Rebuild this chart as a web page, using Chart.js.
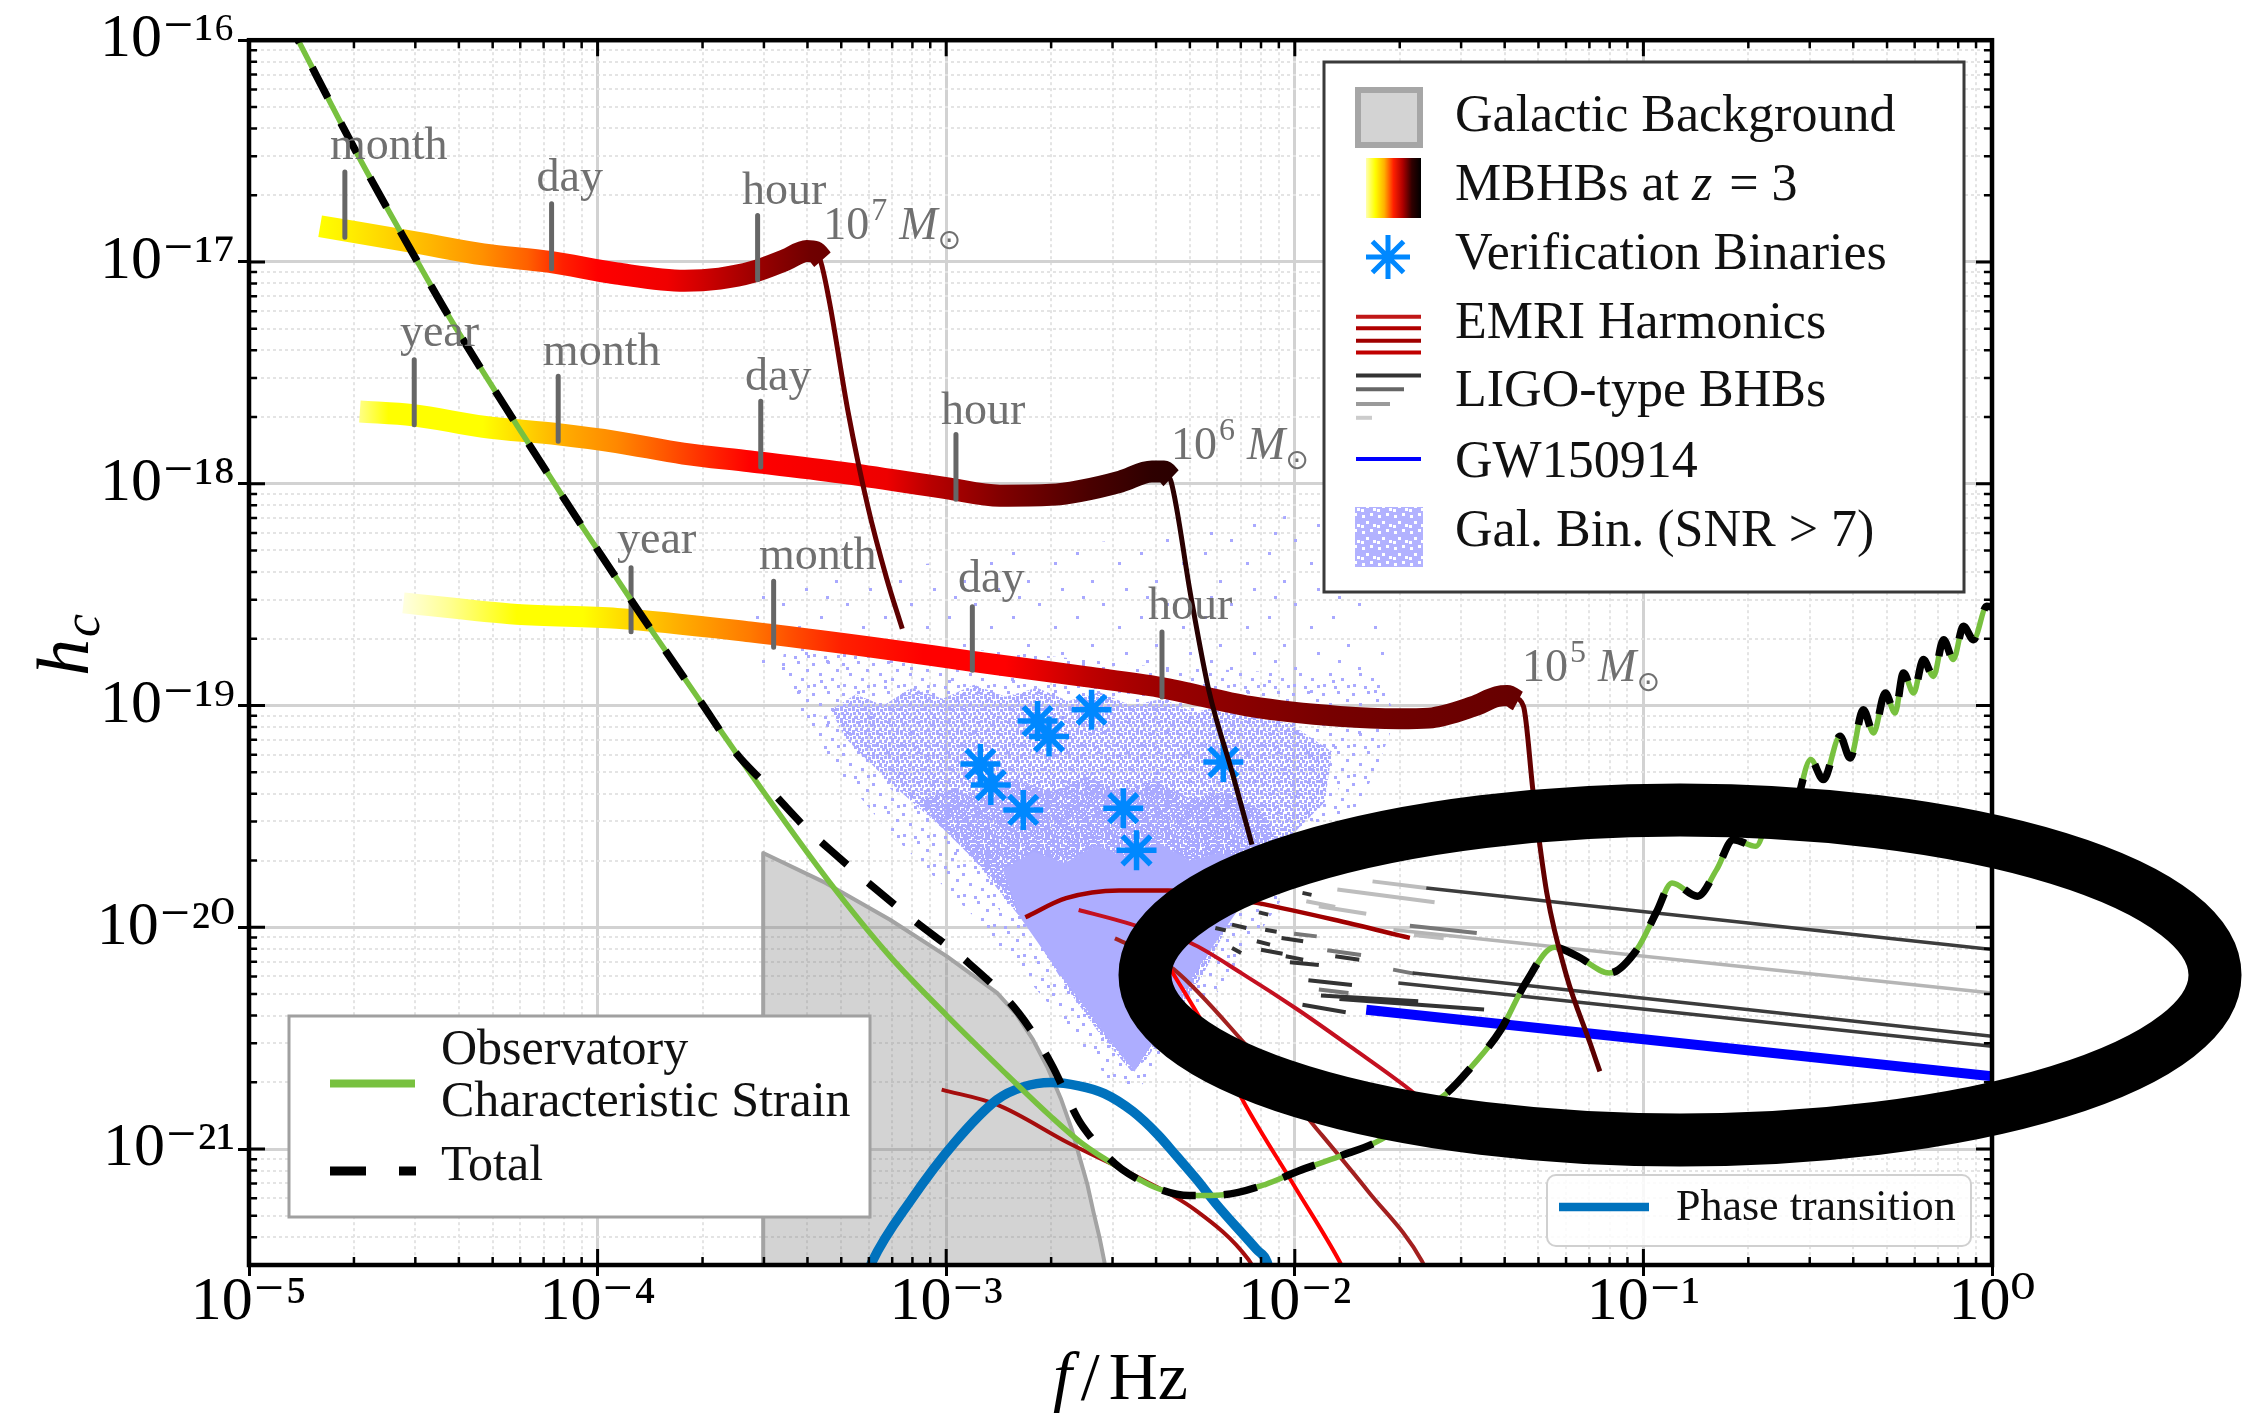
<!DOCTYPE html>
<html>
<head>
<meta charset="utf-8">
<title>Characteristic strain</title>
<script src="https://cdn.jsdelivr.net/npm/chart.js@4.4.1/dist/chart.umd.min.js"></script>
<style>
html,body{margin:0;padding:0;background:#ffffff;}
canvas{display:block;}
</style>
</head>
<body>
<canvas id="chart" width="2246" height="1416"></canvas>
<script>
// ---------- axis ranges and tick labels ----------
const F_MIN = 1e-5, F_MAX = 1, H_MIN = 3e-22, H_MAX = 1e-16;
const xTickExponents = [-5, -4, -3, -2, -1, 0];
const yTickExponents = [-21, -20, -19, -18, -17, -16];

// ---------- series, as [log10 f/Hz, log10 h_c] ----------
const observatoryLog = [
 [-4.90,-15.875],[-4.859,-16.0],[-4.682,-16.535],[-4.538,-16.94],[-4.423,-17.255],[-4.232,-17.735],
 [-4.042,-18.198],[-3.870,-18.604],[-3.703,-18.986],[-3.520,-19.398],[-3.336,-19.794],[-3.162,-20.13],
 [-2.999,-20.397],[-2.846,-20.634],[-2.702,-20.85],[-2.610,-20.975],[-2.497,-21.09],
 [-2.395,-21.177],[-2.303,-21.21],[-2.204,-21.206],[-2.085,-21.16],[-1.991,-21.10],[-1.872,-21.033],
 [-1.753,-20.958],[-1.66,-20.85],[-1.563,-20.746],[-1.492,-20.627],[-1.409,-20.462],[-1.338,-20.251],
 [-1.255,-20.09],[-1.19,-20.13],[-1.098,-20.206],[-1.019,-20.101],[-0.962,-19.93],[-0.918,-19.80],
 [-0.845,-19.86],[-0.79,-19.74],[-0.742,-19.605],[-0.677,-19.635],[-0.618,-19.40],[-0.572,-19.47],
 [-0.520,-19.244],[-0.484,-19.334],[-0.436,-19.139],[-0.407,-19.237],[-0.369,-19.019],[-0.340,-19.124],
 [-0.306,-18.944],[-0.278,-19.034],[-0.254,-18.853],[-0.225,-18.944],[-0.197,-18.793],[-0.168,-18.869],
 [-0.139,-18.703],[-0.111,-18.793],[-0.082,-18.643],[-0.053,-18.703],[-0.015,-18.553],[0.01,-18.56]
];
const totalLog = [
 [-4.90,-15.875],[-4.859,-16.0],[-4.682,-16.535],[-4.538,-16.94],[-4.423,-17.255],[-4.232,-17.735],
 [-4.042,-18.198],[-3.870,-18.604],[-3.703,-18.986],[-3.60,-19.22],[-3.525,-19.345],[-3.47,-19.44],
 [-3.407,-19.545],[-3.33,-19.655],[-3.253,-19.76],[-3.095,-19.966],[-2.936,-20.161],[-2.792,-20.387],
 [-2.700,-20.612],[-2.62,-20.87],[-2.587,-20.943],[-2.54,-21.03],[-2.497,-21.09],
 [-2.395,-21.177],[-2.303,-21.21],[-2.204,-21.206],[-2.085,-21.16],[-1.991,-21.10],[-1.872,-21.033],
 [-1.753,-20.958],[-1.66,-20.85],[-1.563,-20.746],[-1.492,-20.627],[-1.409,-20.462],[-1.338,-20.251],
 [-1.255,-20.09],[-1.19,-20.13],[-1.098,-20.206],[-1.019,-20.101],[-0.962,-19.93],[-0.918,-19.80],
 [-0.845,-19.86],[-0.79,-19.74],[-0.742,-19.605],[-0.677,-19.635],[-0.618,-19.40],[-0.572,-19.47],
 [-0.520,-19.244],[-0.484,-19.334],[-0.436,-19.139],[-0.407,-19.237],[-0.369,-19.019],[-0.340,-19.124],
 [-0.306,-18.944],[-0.278,-19.034],[-0.254,-18.853],[-0.225,-18.944],[-0.197,-18.793],[-0.168,-18.869],
 [-0.139,-18.703],[-0.111,-18.793],[-0.082,-18.643],[-0.053,-18.703],[-0.015,-18.553],[0.01,-18.56]
];
const galacticBgLog = [
 [-3.525,-21.7],[-3.525,-19.665],[-3.346,-19.80],[-3.161,-19.966],[-2.998,-20.131],[-2.854,-20.296],
 [-2.80,-20.39],[-2.751,-20.507],[-2.71,-20.63],[-2.670,-20.777],[-2.64,-20.91],[-2.618,-21.033],
 [-2.595,-21.16],[-2.577,-21.288],[-2.56,-21.40],[-2.546,-21.51],[-2.54,-21.7]
];
const phaseTransitionLog = [
 [-3.235,-21.60],[-3.213,-21.51],[-3.100,-21.228],[-2.977,-20.973],[-2.854,-20.777],[-2.78,-20.72],
 [-2.700,-20.70],[-2.62,-20.715],[-2.546,-20.75],[-2.465,-20.83],[-2.393,-20.935],[-2.34,-21.03],
 [-2.28,-21.14],[-2.228,-21.243],[-2.109,-21.454],[-2.080,-21.507],[-2.065,-21.6]
];
// MBHB tracks at z = 3 (thick inspiral band, then thin merger drop)
const mbhb7Band = [[-4.796,-16.839],[-4.519,-16.913],[-4.328,-16.966],[-4.137,-17.0],[-3.945,-17.052],[-3.75,-17.085],[-3.65,-17.075],[-3.555,-17.045],[-3.46,-16.99],[-3.40,-16.95],[-3.375,-16.955],[-3.355,-16.99]];
const mbhb7Drop = [[-3.39,-16.95],[-3.363,-16.985],[-3.337,-17.163],[-3.281,-17.68],[-3.226,-18.095],[-3.171,-18.426],[-3.126,-18.654]];
const mbhb6Band = [[-4.682,-17.674],[-4.529,-17.691],[-4.328,-17.743],[-4.113,-17.777],[-3.945,-17.812],[-3.754,-17.864],[-3.563,-17.899],[-3.3,-17.95],[-3.0,-18.02],[-2.846,-18.054],[-2.70,-18.05],[-2.618,-18.033],[-2.50,-17.99],[-2.41,-17.945],[-2.375,-17.945],[-2.355,-17.975]];
const mbhb6Drop = [[-2.40,-17.945],[-2.37,-17.96],[-2.355,-17.99],[-2.298,-18.509],[-2.246,-18.936],[-2.18,-19.3],[-2.123,-19.627]];
const mbhb5Band = [[-4.557,-18.537],[-4.232,-18.589],[-3.945,-18.607],[-3.563,-18.668],[-3.2,-18.74],[-2.920,-18.802],[-2.6,-18.87],[-2.386,-18.918],[-2.1285,-19.004],[-1.872,-19.049],[-1.70,-19.06],[-1.616,-19.057],[-1.488,-19.004],[-1.42,-18.96],[-1.39,-18.955],[-1.36,-18.98]];
const mbhb5Drop = [[-1.40,-18.955],[-1.37,-18.965],[-1.344,-19.004],[-1.316,-19.395],[-1.277,-19.846],[-1.220,-20.222],[-1.153,-20.522],[-1.125,-20.65]];
// colour along each track: [log10 f, colour]
const mbhb7Colors = [[-4.80,'#ffff00'],[-4.712,'#ffee00'],[-4.519,'#ffc000'],[-4.33,'#ff9000'],[-4.20,'#ff6000'],[-4.10,'#ff2000'],[-4.0,'#ff0000'],[-3.80,'#f00000'],[-3.70,'#d00000'],[-3.56,'#a00000'],[-3.47,'#850000'],[-3.39,'#700000'],[-3.12,'#5c0000']];
const mbhb6Colors = [[-4.69,'#ffff90'],[-4.60,'#ffff00'],[-4.33,'#ffff00'],[-4.232,'#ffdd00'],[-4.089,'#ffaa00'],[-3.945,'#ff8800'],[-3.802,'#ff5500'],[-3.658,'#ff2000'],[-3.563,'#ff0000'],[-3.17,'#ee0000'],[-3.044,'#b80000'],[-2.84,'#800000'],[-2.59,'#4a0000'],[-2.41,'#2e0000'],[-2.12,'#200000']];
const mbhb5Colors = [[-4.56,'#ffffe0'],[-4.423,'#ffff90'],[-4.232,'#ffff00'],[-4.042,'#ffff00'],[-3.945,'#ffe000'],[-3.754,'#ffaa00'],[-3.563,'#ff7a00'],[-3.45,'#ff5000'],[-3.30,'#ff2000'],[-3.066,'#ff0000'],[-2.831,'#ff0000'],[-2.714,'#e00000'],[-2.597,'#c00000'],[-2.480,'#aa0000'],[-2.363,'#990000'],[-2.129,'#880000'],[-1.895,'#770000'],[-1.698,'#700000'],[-1.40,'#680000'],[-1.12,'#5a0000']];
// time-to-merger markers: [log10 f, log10 h top, log10 h bottom]
const trackTickMarks = [
 [-4.725,-16.594,-16.888],[-4.132,-16.738,-17.031],[-3.541,-16.79,-17.08],
 [-4.526,-17.441,-17.734],[-4.113,-17.515,-17.808],[-3.532,-17.628,-17.925],[-2.972,-17.778,-18.07],
 [-3.904,-18.379,-18.667],[-3.495,-18.44,-18.737],[-2.925,-18.555,-18.841],[-2.381,-18.668,-18.962]
];
const trackWords = [
 ['month',-4.768,-16.537],['day',-4.175,-16.680],['hour',-3.586,-16.738],
 ['year',-4.567,-17.380],['month',-4.157,-17.463],['day',-3.577,-17.576],['hour',-3.015,-17.730],
 ['year',-3.944,-18.313],['month',-3.537,-18.386],['day',-2.966,-18.487],['hour',-2.421,-18.608]
];
const massLabels = [['7',-3.353,-16.895],['6',-2.355,-17.887],['5',-1.348,-18.891]];
// verification binaries
const verificationLog = [[-2.902,-19.264],[-2.872,-19.359],[-2.779,-19.471],[-2.738,-19.070],[-2.705,-19.140],[-2.583,-19.019],[-2.492,-19.463],[-2.454,-19.653],[-2.205,-19.255]];
// EMRI harmonics
const emriA = [[-3.013,-20.732],[-2.854,-20.80],[-2.649,-20.973],[-2.465,-21.115],[-2.287,-21.273],[-2.133,-21.498],[-2.11,-21.56]];
const emriB = [[-2.773,-19.955],[-2.656,-19.869],[-2.504,-19.834],[-2.364,-19.834],[-2.23,-19.855],[-2.109,-19.89],[-1.89,-19.965],[-1.670,-20.048]];
const emriC = [[-2.62,-19.922],[-2.50,-19.972],[-2.40,-20.02],[-2.30,-20.07],[-2.15,-20.21],[-1.991,-20.372],[-1.83,-20.55],[-1.670,-20.733],[-1.58,-20.85]];
const emriD = [[-2.36,-20.18],[-2.25,-20.47],[-2.145,-20.792],[-2.00,-21.17],[-1.872,-21.506],[-1.855,-21.56]];
const emriE = [[-2.516,-20.05],[-2.434,-20.11],[-2.346,-20.191],[-2.145,-20.522],[-1.943,-20.898],[-1.790,-21.19],[-1.635,-21.506],[-1.62,-21.56]];
// LIGO-type BHB tracks: [lf1, lh1, lf2, lh2]
const ligoDarkSegs = [[-2.228,-20.003,-2.198,-20.014],[-2.180,-19.988,-2.139,-20.003],[-2.103,-19.933,-2.076,-19.943],[-2.085,-20.011,-2.052,-20.020],[-2.109,-20.063,-2.071,-20.078],[-2.038,-20.048,-1.976,-20.063],[-2.180,-20.093,-2.154,-20.116],[-2.097,-20.101,-2.035,-20.119],[-2.026,-20.131,-1.976,-20.146],[-2.014,-20.158,-1.931,-20.170],[-1.884,-20.131,-1.815,-20.146],[-1.961,-20.239,-1.836,-20.260],[-1.978,-20.349,-1.854,-20.383],[-1.872,-20.323,-1.457,-20.371],[-1.925,-20.308,-1.646,-20.334],[-1.978,-19.845,-1.952,-19.854]];
const ligoGraySegs = [[-2.002,-20.029,-1.937,-20.041],[-1.907,-20.104,-1.810,-20.125],[-1.931,-20.281,-1.846,-20.296],[-1.718,-20.191,-1.658,-20.209],[-1.670,-19.993,-1.478,-20.026]];
const ligoLightSegs = [[-1.967,-19.883,-1.884,-19.908],[-1.931,-19.905,-1.795,-19.939],[-1.777,-19.793,-1.623,-19.823],[-1.878,-19.830,-1.599,-19.887],[-1.658,-20.035,-1.573,-20.050]];
const ligoLongDark = [[-1.623,-19.823,0,-20.10],[-1.662,-20.206,0,-20.492],[-1.703,-20.251,0,-20.537]];
const ligoLongLight = [[-1.717,-20.011,0,-20.296]];
const gw150914Log = [[-1.795,-20.372],[0,-20.672]];
// galactic binaries (SNR > 7): outlines of the scatter cloud's density zones
const cloudOuterLog = [[-3.58,-18.75],[-3.56,-18.48],[-3.35,-18.45],[-3.249,-18.40],[-3.0,-18.35],[-2.838,-18.305],[-2.6,-18.27],[-2.427,-18.24],[-2.2,-18.18],[-2.016,-18.143],[-1.85,-18.13],[-1.770,-18.175],[-1.708,-18.531],[-1.72,-18.8],[-1.770,-19.048],[-1.893,-19.436],[-2.016,-19.694],[-2.098,-19.855],[-2.3,-20.25],[-2.459,-20.65],[-2.632,-20.33],[-2.838,-19.94],[-3.044,-19.55],[-3.249,-19.24],[-3.45,-18.95],[-3.58,-18.75]];
const cloudSparseLog = [[-3.455,-18.659],[-3.249,-18.724],[-2.838,-18.756],[-2.427,-18.821],[-2.016,-18.853],[-1.770,-18.853],[-1.708,-19.047],[-1.770,-19.305],[-1.852,-19.532],[-2.016,-19.823],[-2.180,-20.211],[-2.345,-20.534],[-2.448,-20.728],[-2.530,-20.696],[-2.674,-20.405],[-2.920,-19.953],[-3.167,-19.565],[-3.372,-19.177],[-3.475,-18.853],[-3.455,-18.659]];
const cloudDenseLog = [[-3.331,-19.02],[-3.26,-18.95],[-3.18,-19.0],[-3.10,-18.92],[-3.01,-18.97],[-2.920,-18.906],[-2.83,-18.96],[-2.74,-18.92],[-2.65,-18.98],[-2.56,-18.94],[-2.47,-19.0],[-2.38,-18.97],[-2.29,-19.03],[-2.20,-19.0],[-2.10,-19.06],[-2.016,-19.08],[-1.893,-19.209],[-1.914,-19.435],[-1.996,-19.565],[-2.078,-19.694],[-2.180,-19.953],[-2.262,-20.211],[-2.345,-20.405],[-2.427,-20.599],[-2.468,-20.650],[-2.550,-20.502],[-2.653,-20.276],[-2.756,-20.018],[-2.838,-19.824],[-3.003,-19.565],[-3.167,-19.339],[-3.290,-19.145],[-3.331,-19.02]];
const cloudThickLog = [[-3.085,-19.436],[-2.99,-19.38],[-2.90,-19.42],[-2.80,-19.33],[-2.70,-19.39],[-2.60,-19.32],[-2.50,-19.38],[-2.40,-19.34],[-2.30,-19.42],[-2.20,-19.39],[-2.100,-19.47],[-2.057,-19.597],[-2.139,-19.823],[-2.304,-20.275],[-2.460,-20.650],[-2.591,-20.405],[-2.756,-20.018],[-2.920,-19.694],[-3.085,-19.436]];
const cloudCoreLog = [[-2.838,-19.74],[-2.75,-19.66],[-2.66,-19.71],[-2.57,-19.63],[-2.48,-19.69],[-2.39,-19.62],[-2.30,-19.70],[-2.21,-19.66],[-2.119,-19.823],[-2.262,-20.146],[-2.365,-20.405],[-2.460,-20.650],[-2.550,-20.470],[-2.674,-20.211],[-2.789,-19.953],[-2.838,-19.74]];

// ---------- helpers ----------
const SUP = {'-':'\u207B','0':'\u2070','1':'\u00B9','2':'\u00B2','3':'\u00B3','4':'\u2074','5':'\u2075','6':'\u2076','7':'\u2077','8':'\u2078','9':'\u2079'};
const expLabel = e => '10' + String(e).split('').map(ch => SUP[ch]).join('');
const isDecade = v => Math.abs(Math.log10(v) - Math.round(Math.log10(v))) < 1e-9;
function logTicks(min, max) {
  const out = [];
  const e0 = Math.floor(Math.log10(min)), e1 = Math.ceil(Math.log10(max));
  for (let e = e0; e <= e1; e++) for (let m = 1; m <= 9; m++) {
    const v = Number(m + 'e' + e);
    if (v >= min * 0.999999 && v <= max * 1.000001) out.push({value: v, major: m === 1});
  }
  return out;
}
function tickLabel(v, exps) {
  if (!isDecade(v)) return '';
  const e = Math.round(Math.log10(v));
  return exps.includes(e) ? expLabel(e) : '';
}
const P = arr => arr.map(p => ({x: Math.pow(10, p[0]), y: Math.pow(10, p[1])}));
function segs(list) {
  const out = [];
  list.forEach(s => {
    out.push({x: Math.pow(10, s[0]), y: Math.pow(10, s[1])});
    out.push({x: Math.pow(10, s[2]), y: Math.pow(10, s[3])});
    out.push({x: Math.pow(10, s[2]), y: null});
  });
  return out;
}
const tickSegs = trackTickMarks.map(t => [t[0], t[1], t[0], t[2]]);

const canvas = document.getElementById('chart');
const ctx0 = canvas.getContext('2d');
function dotPattern(size, dots, color) {
  const c = document.createElement('canvas'); c.width = size; c.height = size;
  const g = c.getContext('2d'); g.fillStyle = color;
  dots.forEach(d => g.fillRect(d[0], d[1], 3, 3));
  return ctx0.createPattern(c, 'repeat');
}
const LAV = '#a9a9ff';
const faintPattern = dotPattern(64, [[3,4],[37,12],[52,40],[14,27],[30,50],[58,20]], LAV);
const sparsePattern = dotPattern(30, [[2,3],[17,1],[26,9],[9,13],[21,18],[3,24],[14,26],[27,25]], LAV);
const densePattern = dotPattern(12, [[0,0],[4,1],[8,0],[1,4],[6,4],[10,5],[3,8],[8,8],[0,10],[5,11]], LAV);
const thickPattern = dotPattern(10, [[0,0],[4,0],[7,2],[1,4],[5,5],[8,6],[2,8],[6,8]], LAV);
const whiteSpeck = dotPattern(16, [[2,3],[10,1],[6,9],[13,12],[1,13]], '#ffffff');

function gradientFor(stops) {
  return function(c) {
    const chart = c.chart;
    if (!chart.chartArea || !chart.scales.x) return stops[0][1];
    const xs = chart.scales.x;
    const x0 = xs.getPixelForValue(Math.pow(10, stops[0][0]));
    const x1 = xs.getPixelForValue(Math.pow(10, stops[stops.length - 1][0]));
    const g = chart.ctx.createLinearGradient(x0, 0, x1, 0);
    stops.forEach(s => {
      const p = (xs.getPixelForValue(Math.pow(10, s[0])) - x0) / (x1 - x0);
      g.addColorStop(Math.min(1, Math.max(0, p)), s[1]);
    });
    return g;
  };
}

const line = (data, extra) => Object.assign({
  type: 'line', data: data, pointRadius: 0, pointHoverRadius: 0, borderCapStyle: 'butt',
  borderJoinStyle: 'round', fill: false, clip: 0, tension: 0, spanGaps: false
}, extra);
const smooth = {cubicInterpolationMode: 'monotone'};
const area = (data, label, bg, order) => line(P(data), {label: label, borderWidth: 0, borderColor: 'rgba(0,0,0,0)', backgroundColor: bg, fill: 'shape', order: order});

const datasets = [
  line(P(galacticBgLog), {label: 'Galactic Background', borderColor: '#a3a3a3', borderWidth: 4, backgroundColor: 'rgba(128,128,128,0.35)', fill: 'start', order: 30}),
  area(cloudOuterLog, 'Gal. Bin. outer', faintPattern, 29.5),
  area(cloudSparseLog, 'Gal. Bin. sparse', sparsePattern, 29),
  area(cloudDenseLog, 'Gal. Bin. dense', densePattern, 28),
  area(cloudThickLog, 'Gal. Bin. thick', thickPattern, 27),
  area(cloudCoreLog, 'Gal. Bin. (SNR > 7)', '#adadff', 26),
  line(P(emriA), Object.assign({label: 'EMRI 1', borderColor: '#a50d0d', borderWidth: 4, order: 25}, smooth)),
  line(P(emriB), Object.assign({label: 'EMRI 2', borderColor: '#a00000', borderWidth: 4.5, order: 25}, smooth)),
  line(P(emriC), Object.assign({label: 'EMRI 3', borderColor: '#c41020', borderWidth: 4, order: 25}, smooth)),
  line(P(emriD), Object.assign({label: 'EMRI 4', borderColor: '#ff0000', borderWidth: 4, order: 25}, smooth)),
  line(P(emriE), Object.assign({label: 'EMRI 5', borderColor: '#a3201f', borderWidth: 4, order: 25}, smooth)),
  line(segs(ligoLightSegs), {label: 'LIGO light', borderColor: '#bdbdbd', borderWidth: 4, order: 24}),
  line(segs(ligoGraySegs), {label: 'LIGO gray', borderColor: '#777777', borderWidth: 4, order: 24}),
  line(segs(ligoDarkSegs), {label: 'LIGO dark', borderColor: '#333333', borderWidth: 4, order: 24}),
  line(segs(ligoLongLight), {label: 'LIGO-type BHBs light', borderColor: '#b5b5b5', borderWidth: 3.5, order: 23}),
  line(segs(ligoLongDark), {label: 'LIGO-type BHBs', borderColor: '#3c3c3c', borderWidth: 3.5, order: 23}),
  line(P(gw150914Log), {label: 'GW150914', borderColor: '#0000ff', borderWidth: 10, order: 22}),
  line(P(mbhb7Band), Object.assign({label: 'MBHB 1e7', borderColor: gradientFor(mbhb7Colors), borderWidth: 22, order: 20}, smooth)),
  line(P(mbhb6Band), Object.assign({label: 'MBHB 1e6', borderColor: gradientFor(mbhb6Colors), borderWidth: 22, order: 20}, smooth)),
  line(P(mbhb5Band), Object.assign({label: 'MBHB 1e5', borderColor: gradientFor(mbhb5Colors), borderWidth: 21, order: 20}, smooth)),
  line(segs(tickSegs), {label: 'time markers', borderColor: '#666666', borderWidth: 5, order: 19}),
  line(P(verificationLog), {label: 'Verification Binaries', showLine: false, pointStyle: 'star', pointRadius: 20, pointBorderWidth: 5.5, pointBorderColor: '#0088ff', pointBackgroundColor: '#0088ff', borderColor: '#0088ff', order: 18}),
  line(P(phaseTransitionLog), Object.assign({label: 'Phase transition', borderColor: '#0072bd', borderWidth: 9.5, order: 16}, smooth)),
  line(P(observatoryLog), Object.assign({label: 'Observatory Characteristic Strain', borderColor: '#78c13f', borderWidth: 5.5, order: 15}, smooth)),
  line(P(totalLog), Object.assign({label: 'Total', borderColor: '#000000', borderWidth: 7.5, borderDash: [34, 28], order: 14}, smooth)),
  line(P(mbhb7Drop), Object.assign({label: 'MBHB 1e7 merger', borderColor: gradientFor(mbhb7Colors), borderWidth: 5, order: 12}, smooth)),
  line(P(mbhb6Drop), Object.assign({label: 'MBHB 1e6 merger', borderColor: gradientFor(mbhb6Colors), borderWidth: 5, order: 12}, smooth)),
  line(P(mbhb5Drop), Object.assign({label: 'MBHB 1e5 merger', borderColor: gradientFor(mbhb5Colors), borderWidth: 5, order: 12}, smooth))
];

// ---------- decorations ----------
const SERIF = '"Liberation Serif", "DejaVu Serif", serif';
function drawStar(ctx, x, y, r, w, color) {
  ctx.save(); ctx.strokeStyle = color; ctx.lineWidth = w; ctx.beginPath();
  for (let k = 0; k < 4; k++) {
    const a = k * Math.PI / 4;
    ctx.moveTo(x - r * Math.cos(a), y - r * Math.sin(a));
    ctx.lineTo(x + r * Math.cos(a), y + r * Math.sin(a));
  }
  ctx.stroke(); ctx.restore();
}
function hline(ctx, x1, x2, y, w, color) {
  ctx.strokeStyle = color; ctx.lineWidth = w; ctx.beginPath(); ctx.moveTo(x1, y); ctx.lineTo(x2, y); ctx.stroke();
}
function drawLegends(ctx) {
  ctx.save();
  ctx.lineCap = 'butt';
  // upper right legend
  ctx.fillStyle = '#ffffff'; ctx.fillRect(1324, 62, 640, 530);
  ctx.strokeStyle = '#3a3a3a'; ctx.lineWidth = 3; ctx.strokeRect(1324, 62, 640, 530);
  ctx.fillStyle = '#d3d3d3'; ctx.fillRect(1358, 90, 62, 55);
  ctx.strokeStyle = '#a6a6a6'; ctx.lineWidth = 6; ctx.strokeRect(1358, 90, 62, 55);
  const g = ctx.createLinearGradient(1366, 0, 1421, 0);
  ['#ffffb0', '#ffff00', '#ffb000', '#ff2000', '#b00000', '#300000', '#000000'].forEach((c, i, arr) => g.addColorStop(i / (arr.length - 1), c));
  ctx.fillStyle = g; ctx.fillRect(1366, 158, 55, 60);
  drawStar(ctx, 1388, 257, 22, 5, '#0088ff');
  [[316.8, '#c01818'], [328.3, '#b00000'], [340.7, '#a00000'], [352.6, '#c00000']].forEach(l => hline(ctx, 1356, 1421, l[0], 4, l[1]));
  [[375.6, 1421, '#333333'], [389.3, 1404, '#666666'], [404, 1390, '#9a9a9a'], [417.8, 1372, '#cccccc']].forEach(l => hline(ctx, 1356, l[1], l[0], 4, l[2]));
  hline(ctx, 1356, 1421, 459, 4, '#0000ff');
  ctx.fillStyle = '#b2b2ff'; ctx.fillRect(1355, 507, 68, 60);
  ctx.fillStyle = whiteSpeck; ctx.fillRect(1355, 507, 68, 60);
  ctx.fillStyle = '#111111'; ctx.textAlign = 'left'; ctx.textBaseline = 'alphabetic';
  ctx.font = '52px ' + SERIF;
  ctx.fillText('Galactic Background', 1455, 131);
  let x = 1455;
  ctx.fillText('MBHBs at ', x, 200); x += ctx.measureText('MBHBs at ').width;
  ctx.font = 'italic 52px ' + SERIF; ctx.fillText('z', x, 200); x += ctx.measureText('z').width;
  ctx.font = '52px ' + SERIF; ctx.fillText(' = 3', x + 4, 200);
  ctx.fillText('Verification Binaries', 1455, 269);
  ctx.fillText('EMRI Harmonics', 1455, 338);
  ctx.fillText('LIGO-type BHBs', 1455, 406);
  ctx.fillText('GW150914', 1455, 477);
  ctx.fillText('Gal. Bin. (SNR > 7)', 1455, 546);
  // lower left legend
  ctx.fillStyle = '#ffffff'; ctx.fillRect(289, 1016, 581, 201);
  ctx.strokeStyle = '#a0a0a0'; ctx.lineWidth = 3; ctx.strokeRect(289, 1016, 581, 201);
  hline(ctx, 330, 415, 1083.5, 8, '#78c13f');
  hline(ctx, 330, 366, 1171, 9, '#000000');
  hline(ctx, 399, 416, 1171, 9, '#000000');
  ctx.fillStyle = '#111111'; ctx.font = '50px ' + SERIF;
  ctx.fillText('Observatory', 441, 1064);
  ctx.fillText('Characteristic Strain', 441, 1116);
  ctx.fillText('Total', 441, 1180);
  // phase transition legend
  ctx.beginPath(); ctx.roundRect(1547, 1175, 424, 71, 9);
  ctx.fillStyle = 'rgba(255,255,255,0.85)'; ctx.fill();
  ctx.strokeStyle = '#d0d0d0'; ctx.lineWidth = 2; ctx.stroke();
  hline(ctx, 1559, 1649, 1207, 8.5, '#0072bd');
  ctx.fillStyle = '#111111'; ctx.font = '44px ' + SERIF;
  ctx.fillText('Phase transition', 1676, 1220);
  ctx.restore();
}
function drawAxisTitles(chart) {
  const ctx = chart.ctx, a = chart.chartArea;
  ctx.save(); ctx.fillStyle = '#000000'; ctx.textAlign = 'left'; ctx.textBaseline = 'alphabetic';
  const fs = 68, base = 1399, gap = 9;
  ctx.font = 'italic ' + fs + 'px ' + SERIF; const wf = ctx.measureText('f').width;
  ctx.font = fs + 'px ' + SERIF; const ws = ctx.measureText('/').width, wh = ctx.measureText('Hz').width;
  let x = (a.left + a.right) / 2 - (wf + ws + wh + 2 * gap) / 2;
  ctx.font = 'italic ' + fs + 'px ' + SERIF; ctx.fillText('f', x, base); x += wf + gap;
  ctx.font = fs + 'px ' + SERIF; ctx.fillText('/', x, base); x += ws + gap; ctx.fillText('Hz', x, base);
  ctx.translate(88, 645); ctx.rotate(-Math.PI / 2);
  ctx.font = 'italic 74px ' + SERIF; const w1 = ctx.measureText('h').width;
  ctx.font = 'italic 52px ' + SERIF; const w2 = ctx.measureText('c').width;
  let y = -(w1 + w2 + 2) / 2;
  ctx.font = 'italic 74px ' + SERIF; ctx.fillText('h', y, 0); y += w1 + 2;
  ctx.font = 'italic 52px ' + SERIF; ctx.fillText('c', y, 11);
  ctx.restore();
}
const decor = {
  id: 'decor',
  afterDatasetsDraw(chart) {
    const ctx = chart.ctx, xs = chart.scales.x, ys = chart.scales.y, a = chart.chartArea;
    const px = v => xs.getPixelForValue(Math.pow(10, v));
    const py = v => ys.getPixelForValue(Math.pow(10, v));
    ctx.save();
    ctx.fillStyle = '#707070'; ctx.textAlign = 'left'; ctx.textBaseline = 'alphabetic';
    ctx.font = '46px ' + SERIF;
    trackWords.forEach(w => ctx.fillText(w[0], px(w[1]), py(w[2])));
    massLabels.forEach(m => {
      let x = px(m[1]); const y = py(m[2]);
      ctx.font = '46px ' + SERIF; ctx.fillText('10', x, y); x += ctx.measureText('10').width + 2;
      ctx.font = '32px ' + SERIF; ctx.fillText(m[0], x, y - 19); x += ctx.measureText(m[0]).width + 12;
      ctx.font = 'italic 46px ' + SERIF; ctx.fillText('M', x, y); x += ctx.measureText('M').width;
      ctx.font = '28px "DejaVu Sans"'; ctx.fillText('\u2299', x, y + 10);
    });
    // inward tick marks on all four sides
    ctx.strokeStyle = '#000000'; ctx.lineCap = 'butt';
    xs.ticks.forEach(t => {
      const p = xs.getPixelForValue(t.value); const L = t.major ? 16 : 8;
      ctx.lineWidth = t.major ? 3 : 2.5; ctx.beginPath();
      ctx.moveTo(p, a.bottom); ctx.lineTo(p, a.bottom - L);
      ctx.moveTo(p, a.top); ctx.lineTo(p, a.top + L); ctx.stroke();
    });
    ys.ticks.forEach(t => {
      const p = ys.getPixelForValue(t.value); const L = t.major ? 16 : 8;
      ctx.lineWidth = t.major ? 3 : 2.5; ctx.beginPath();
      ctx.moveTo(a.left, p); ctx.lineTo(a.left + L, p);
      ctx.moveTo(a.right, p); ctx.lineTo(a.right - L, p); ctx.stroke();
    });
    ctx.lineWidth = 4.5; ctx.strokeRect(a.left, a.top, a.right - a.left, a.bottom - a.top);
    ctx.restore();
  },
  afterDraw(chart) {
    drawAxisTitles(chart);
    drawLegends(chart.ctx);
    const ctx = chart.ctx;
    ctx.save(); ctx.strokeStyle = '#000000'; ctx.lineWidth = 53;
    ctx.beginPath(); ctx.ellipse(1680, 975, 535, 165, 0, 0, Math.PI * 2); ctx.stroke();
    ctx.restore();
  }
};

const gridOpts = {
  color: c => (c.tick && isDecade(c.tick.value)) ? '#d2d2d2' : '#e4e4e4',
  lineWidth: c => (c.tick && isDecade(c.tick.value)) ? 3 : 2,
  drawTicks: true, tickLength: 11, tickWidth: 3,
  tickColor: c => (c.tick && isDecade(c.tick.value)) ? '#000000' : 'rgba(0,0,0,0)'
};
const borderOpts = {display: false, dash: c => (c.tick && isDecade(c.tick.value)) ? [] : [3, 3]};

Chart.defaults.font.family = SERIF;
new Chart(canvas, {
  type: 'line',
  data: {datasets: datasets},
  options: {
    responsive: false, maintainAspectRatio: false, animation: false, devicePixelRatio: 1, events: [],
    layout: {padding: {left: 0, right: 254, top: 40, bottom: 0}},
    elements: {line: {capBezierPoints: false}},
    plugins: {legend: {display: false}, tooltip: {enabled: false}},
    scales: {
      x: {
        type: 'logarithmic', min: F_MIN, max: F_MAX, bounds: 'data',
        afterBuildTicks: s => { s.ticks = logTicks(F_MIN, F_MAX); },
        afterFit: s => { s.height = 151; },
        ticks: {autoSkip: false, maxRotation: 0, minRotation: 0, padding: -10, color: '#000000',
                font: {family: SERIF, size: 62}, callback: v => tickLabel(v, xTickExponents)},
        grid: gridOpts, border: borderOpts
      },
      y: {
        type: 'logarithmic', min: H_MIN, max: H_MAX, bounds: 'data',
        afterBuildTicks: s => { s.ticks = logTicks(H_MIN, H_MAX); },
        afterFit: s => { s.width = 249; },
        ticks: {autoSkip: false, padding: 3, color: '#000000',
                font: {family: SERIF, size: 62}, callback: v => tickLabel(v, yTickExponents)},
        grid: gridOpts, border: borderOpts
      }
    }
  },
  plugins: [decor]
});
</script>
</body>
</html>
